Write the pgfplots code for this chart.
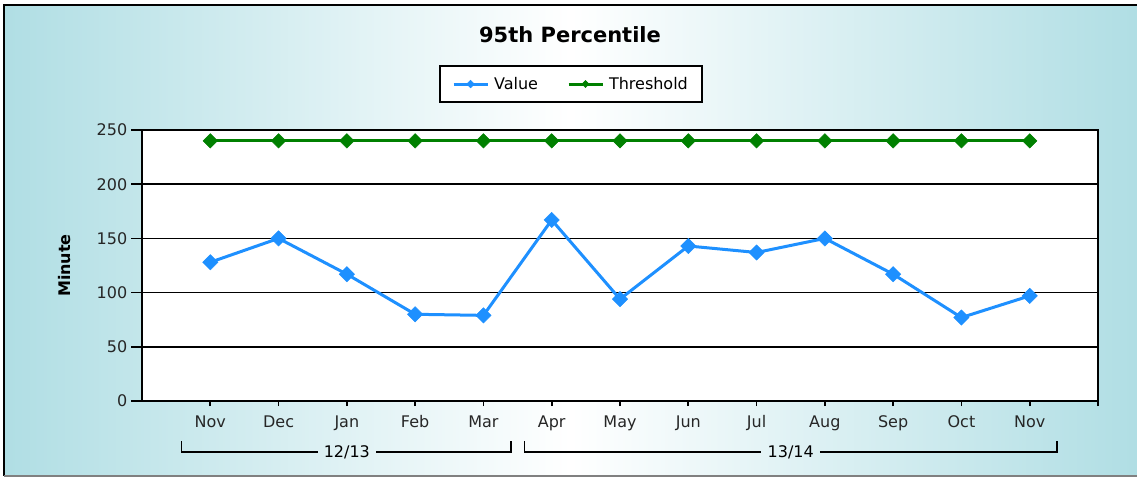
\documentclass[border=0pt]{standalone}
\usepackage{fontspec}
\setmainfont{DejaVu Sans}
\usepackage{pgfplots}
\pgfplotsset{compat=1.18}
\definecolor{bgblue}{RGB}{176,222,228}
\definecolor{valblue}{RGB}{30,144,255}
\definecolor{thrgreen}{RGB}{0,128,0}
\begin{document}
\begin{tikzpicture}[x=1pt,y=1pt]
\path[use as bounding box] (0,0) rectangle (1137,-477);
\shade[left color=bgblue, right color=bgblue, middle color=white] (4,-5) rectangle (1137,-476);
\draw[line width=2.2pt] (1137,-5) -- (4,-5) -- (4,-476);
\draw[line width=1.2pt, gray] (4,-476) -- (1137,-476);
\node[font=\fontsize{21}{25}\selectfont\bfseries] at (570,-34.5) {95th Percentile};
\node[font=\fontsize{16}{19}\selectfont\bfseries, rotate=90] at (65,-265.5) {Minute};
\begin{axis}[
  at={(142pt,-401pt)}, anchor=south west,
  width=956pt, height=271pt, scale only axis,
  xmin=-1, xmax=13, ymin=0, ymax=250,
  clip=false,
  axis background/.style={fill=white},
  xtick={0,...,13},
  xticklabels={Nov,Dec,Jan,Feb,Mar,Apr,May,Jun,Jul,Aug,Sep,Oct,Nov,{}},
  ytick={0,50,...,250},
  ymajorgrids, grid style={black, line width=1.6pt},
  axis line style={black, line width=2pt},
  tick align=outside, tick pos=left,
  tick style={black, line width=1.6pt},
  xtick style={/pgfplots/major tick length=5pt},
  ytick style={/pgfplots/major tick length=11pt},
  ticklabel style={font=\fontsize{16}{19}\selectfont, text=black!85},
  yticklabel style={xshift=-7pt},
  xticklabel style={yshift=-7pt},
  /pgf/number format/assume math mode=true,
  legend style={at={(0.4487,1.1697)}, anchor=center, legend columns=2,
    draw=black, line width=1.6pt, fill=white,
    font=\fontsize{16}{19}\selectfont, inner xsep=12pt, inner ysep=9pt,
    /tikz/every odd column/.append style={column sep=3pt},
    /tikz/every even column/.append style={column sep=27pt}},
  legend image code/.code={\draw[#1, mark repeat=2, mark phase=2, /tikz/every mark/.append style={scale=0.5}] plot coordinates {(0pt,0pt) (17pt,0pt) (34pt,0pt)};},
]
\addplot[valblue, line width=3pt, mark=square*, mark size=5.4pt,
  mark options={rotate=45, fill=valblue, draw=valblue, line width=0.5pt}]
  coordinates {(0,128) (1,150) (2,117) (3,80) (4,79) (5,167) (6,94) (7,143) (8,137) (9,150) (10,117) (11,77) (12,97)};
\addplot[thrgreen, line width=3pt, mark=square*, mark size=5.1pt,
  mark options={rotate=45, fill=thrgreen, draw=thrgreen, line width=0.5pt}]
  coordinates {(0,240) (1,240) (2,240) (3,240) (4,240) (5,240) (6,240) (7,240) (8,240) (9,240) (10,240) (11,240) (12,240)};
\legend{Value, Threshold\hspace{20pt}}
\node[font=\fontsize{16}{19}\selectfont, inner xsep=6pt, inner ysep=0pt, text height=11.5pt, text depth=0pt, anchor=center] (g1) at ([yshift=-51pt]axis cs:2,0) {12/13};
\node[font=\fontsize{16}{19}\selectfont, inner xsep=6pt, inner ysep=0pt, text height=11.5pt, text depth=0pt, anchor=center] (g2) at ([yshift=-51pt]axis cs:8.5,0) {13/14};
\draw[line width=1.6pt] ([yshift=-40pt]axis cs:-0.42,0) -- ([yshift=-51pt]axis cs:-0.42,0) -- (g1.west);
\draw[line width=1.6pt] (g1.east) -- ([yshift=-51pt]axis cs:4.4,0) -- ([yshift=-40pt]axis cs:4.4,0);
\draw[line width=1.6pt] ([yshift=-40pt]axis cs:4.6,0) -- ([yshift=-51pt]axis cs:4.6,0) -- (g2.west);
\draw[line width=1.6pt] (g2.east) -- ([yshift=-51pt]axis cs:12.4,0) -- ([yshift=-40pt]axis cs:12.4,0);
\end{axis}
\end{tikzpicture}
\end{document}
